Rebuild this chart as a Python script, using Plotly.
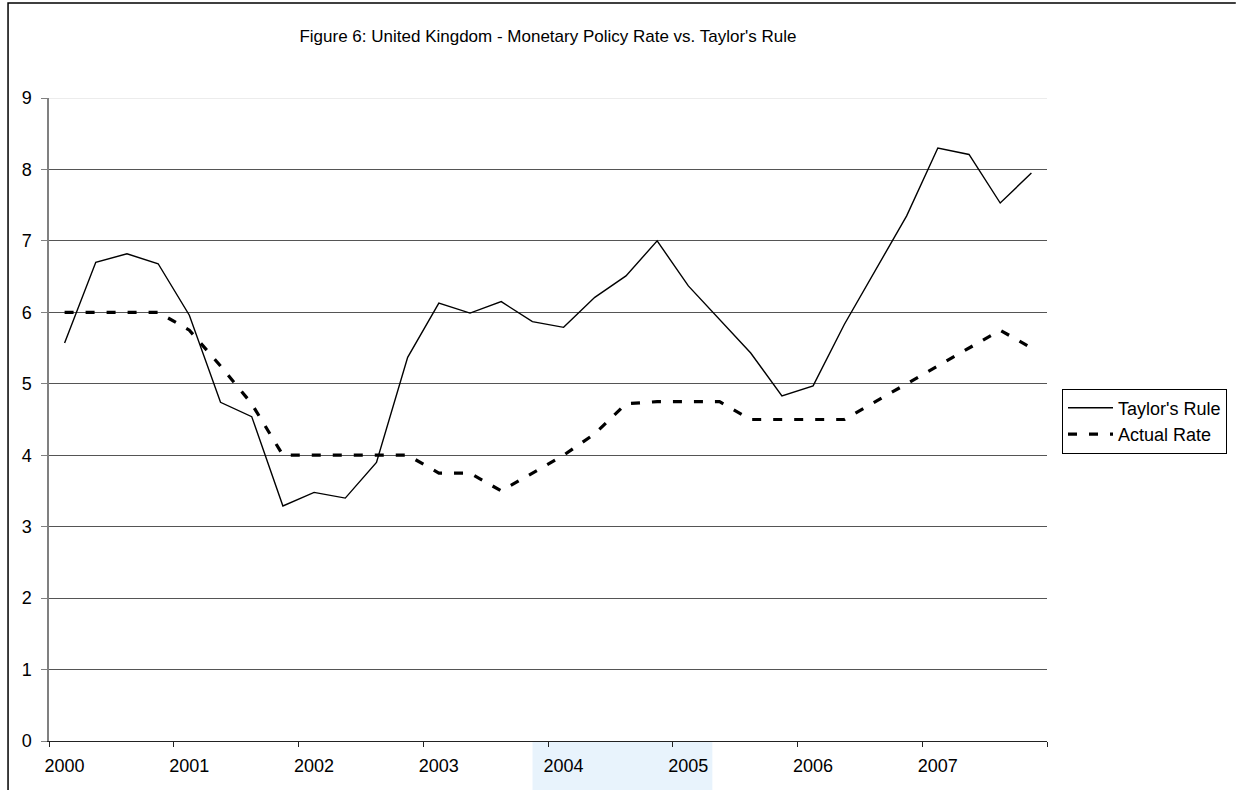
import plotly.graph_objects as go

# ---- data ----
years = ["2000", "2001", "2002", "2003", "2004", "2005", "2006", "2007"]
quarters = ["Q1", "Q2", "Q3", "Q4"]
periods = [y + q for y in years for q in quarters]
taylor_rule = [5.57, 6.70, 6.82, 6.68, 5.96, 4.74, 4.54, 3.29,
               3.48, 3.40, 3.90, 5.37, 6.13, 5.99, 6.15, 5.87,
               5.79, 6.21, 6.51, 7.00, 6.37, 5.90, 5.43, 4.83,
               4.97, 5.83, 6.60, 7.35, 8.30, 8.21, 7.53, 7.95]
actual_rate = [6.00, 6.00, 6.00, 6.00, 5.75, 5.25, 4.72, 4.00,
               4.00, 4.00, 4.00, 4.00, 3.75, 3.75, 3.50, 3.75,
               4.00, 4.30, 4.72, 4.75, 4.75, 4.75, 4.50, 4.50,
               4.50, 4.50, 4.75, 5.00, 5.25, 5.50, 5.75, 5.50]
y_ticks = [0, 1, 2, 3, 4, 5, 6, 7, 8, 9]

x_pos = list(range(len(periods)))
year_pos = [periods.index(y + "Q1") for y in years]

W, H = 1238, 790
L, R, T, B = 49, 190, 98, 49
pw, ph = W - L - R, H - T - B

def px(x):
    return (x - L) / pw

def py(y):
    return (H - B - y) / ph

FONT = "Liberation Sans, Arial, sans-serif"

fig = go.Figure()
fig.add_trace(go.Scatter(
    x=x_pos, y=taylor_rule, name="Taylor's Rule", mode="lines",
    line=dict(color="black", width=1.4), customdata=periods,
))
fig.add_trace(go.Scatter(
    x=x_pos, y=actual_rate, name="Actual Rate", mode="lines",
    line=dict(color="black", width=3.2, dash="9px,12px"), customdata=periods,
))

border_path = "M {x0},{yb} L {x0},{yt} L {xr},{yt}".format(
    x0=px(8), yb=py(792), yt=py(3), xr=px(1237))

shapes = [
    # lighter top gridline at 9
    dict(type="line", xref="x", yref="y", x0=-0.5, x1=len(periods) - 0.5, y0=9, y1=9,
         line=dict(color="#d9d9d9", width=1.2), layer="below"),
    # outer chart border (left and top)
    dict(type="path", xref="paper", yref="paper", path=border_path,
         line=dict(color="black", width=1.5)),
    # faint scan watermark
    dict(type="rect", xref="paper", yref="paper", x0=px(533), x1=px(713), y0=py(790), y1=py(742),
         fillcolor="#e8f3fc", line=dict(width=0), layer="below"),
]

fig.update_layout(
    width=W, height=H,
    margin=dict(l=L, r=R, t=T, b=B),
    paper_bgcolor="white", plot_bgcolor="white",
    font=dict(family=FONT, size=18, color="black"),
    title=dict(text="Figure 6: United Kingdom - Monetary Policy Rate vs. Taylor's Rule",
               x=0.5, xref="paper", y=1 - 36 / H, yref="container",
               xanchor="center", yanchor="middle",
               font=dict(family=FONT, size=17, color="black")),
    showlegend=True,
    legend=dict(x=px(1062), y=py(421), xanchor="left", yanchor="middle",
                bordercolor="black", borderwidth=1, bgcolor="white",
                font=dict(family=FONT, size=18, color="black"),
                tracegroupgap=0, itemwidth=45),
    shapes=shapes,
    xaxis=dict(
        range=[-0.5, len(periods) - 0.5],
        tickmode="array", tickvals=year_pos, ticktext=years,
        ticks="", showgrid=False, zeroline=False,
        showline=True, linecolor="#222222", linewidth=1.3,
        ticklabelstandoff=8,
        minor=dict(tickmode="array",
                   tickvals=[p - 0.5 for p in year_pos] + [len(periods) - 0.5],
                   ticks="outside", ticklen=5, tickcolor="#222222", tickwidth=1.3,
                   showgrid=False),
        fixedrange=True,
    ),
    yaxis=dict(
        range=[0, 9], tickmode="array", tickvals=y_ticks,
        ticks="outside", ticklen=6, tickcolor="#808080", tickwidth=1.2,
        showgrid=True, gridcolor="#555555", gridwidth=1.1,
        zeroline=False,
        showline=True, linecolor="#808080", linewidth=1.5,
        ticklabelstandoff=6,
        fixedrange=True,
    ),
)

fig.write_html(
    "out.html",
    config={"displayModeBar": False},
    post_script="document.body.style.margin='0';document.body.style.overflow='hidden';",
)
